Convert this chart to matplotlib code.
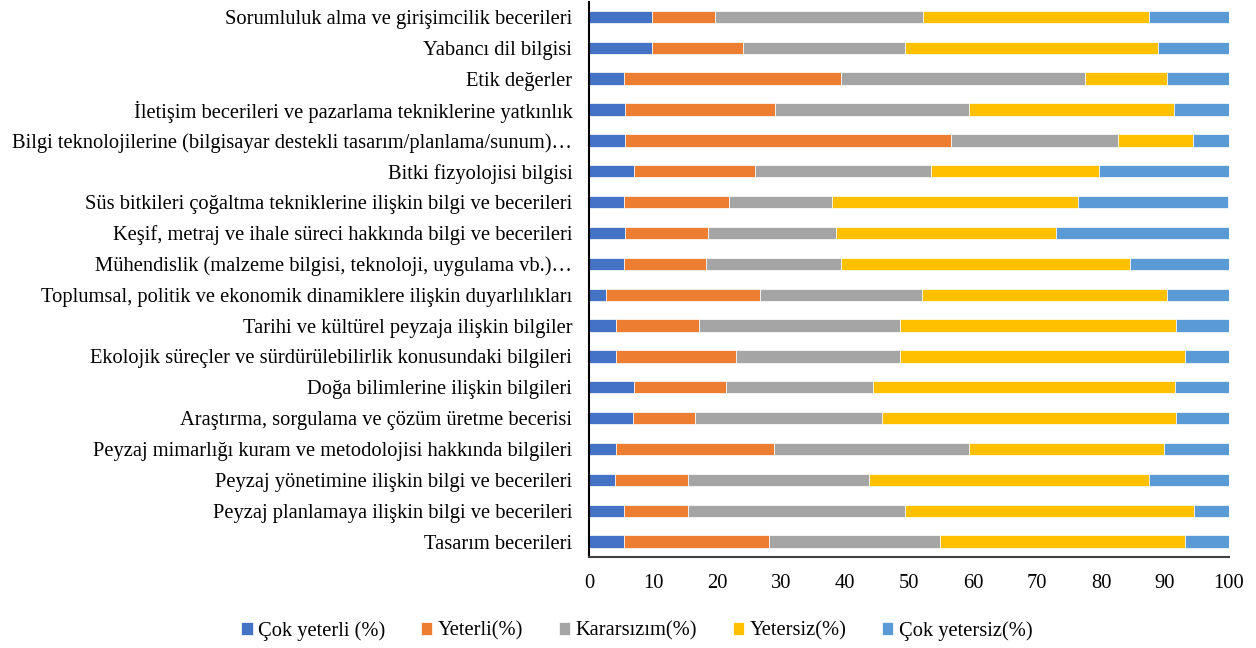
import matplotlib
matplotlib.use("Agg")
import matplotlib.pyplot as plt
import numpy as np

plt.rcParams['font.family'] = ['Liberation Serif', 'DejaVu Serif']

categories = [
    "Sorumluluk alma ve girişimcilik becerileri",
    "Yabancı dil bilgisi",
    "Etik değerler",
    "İletişim becerileri ve pazarlama tekniklerine yatkınlık",
    "Bilgi teknolojilerine (bilgisayar destekli tasarım/planlama/sunum)…",
    "Bitki fizyolojisi bilgisi",
    "Süs bitkileri çoğaltma tekniklerine ilişkin bilgi ve becerileri",
    "Keşif, metraj ve ihale süreci hakkında bilgi ve becerileri",
    "Mühendislik (malzeme bilgisi, teknoloji, uygulama vb.)…",
    "Toplumsal, politik ve ekonomik dinamiklere ilişkin duyarlılıkları",
    "Tarihi ve kültürel peyzaja ilişkin bilgiler",
    "Ekolojik süreçler ve sürdürülebilirlik konusundaki bilgileri",
    "Doğa bilimlerine ilişkin bilgileri",
    "Araştırma, sorgulama ve çözüm üretme becerisi",
    "Peyzaj mimarlığı kuram ve metodolojisi hakkında bilgileri",
    "Peyzaj yönetimine ilişkin bilgi ve becerileri",
    "Peyzaj planlamaya ilişkin bilgi ve becerileri",
    "Tasarım becerileri",
]

cok_yeterli = [9.9, 9.9, 5.5, 5.7, 5.7, 7.1, 5.5, 5.7, 5.5, 2.7, 4.2, 4.2, 7.0, 6.8, 4.2, 4.1, 5.5, 5.5]
yeterli = [9.8, 14.1, 33.9, 23.3, 50.9, 18.9, 16.3, 12.9, 12.8, 24.0, 13.0, 18.7, 14.4, 9.8, 24.7, 11.4, 10.0, 22.6]
kararsizim = [32.5, 25.4, 38.1, 30.4, 26.1, 27.5, 16.2, 20.0, 21.1, 25.4, 31.4, 25.7, 22.9, 29.2, 30.5, 28.3, 33.9, 26.8]
yetersiz = [35.3, 39.5, 12.8, 32.0, 11.7, 26.2, 38.4, 34.4, 45.2, 38.2, 43.1, 44.5, 47.2, 45.9, 30.4, 43.7, 45.2, 38.2]
cok_yetersiz = [12.5, 11.1, 9.7, 8.6, 5.6, 20.3, 23.4, 27.0, 15.4, 9.7, 8.3, 6.9, 8.5, 8.3, 10.2, 12.5, 5.4, 6.9]

series = [
    ("Çok yeterli (%)", cok_yeterli, "#4472C4"),
    ("Yeterli(%)", yeterli, "#ED7D31"),
    ("Kararsızım(%)", kararsizim, "#A5A5A5"),
    ("Yetersiz(%)", yetersiz, "#FFC000"),
    ("Çok yetersiz(%)", cok_yetersiz, "#5B9BD5"),
]
xticks = [0, 10, 20, 30, 40, 50, 60, 70, 80, 90, 100]

FS = 14.8

fig = plt.figure(figsize=(12.56, 6.48), dpi=100)
ax = fig.add_axes([589/1256, 1 - 557/648, (1229 - 589)/1256, (557 - 1.5)/648])

n = len(categories)
y = np.arange(n)[::-1]
left = np.zeros(n)
for label, vals, color in series:
    vals = np.array(vals)
    ax.barh(y, vals, left=left, height=0.4, color=color, label=label,
            edgecolor='white', linewidth=0.5)
    left += vals

ax.set_xlim(0, 100)
ax.set_ylim(-0.5, n - 0.5)
ax.set_yticks(y)
ax.set_yticklabels(categories, fontsize=FS)
ax.set_xticks(xticks)
ax.set_xticklabels([str(t) for t in xticks], fontsize=FS)
ax.tick_params(axis='both', length=0)
ax.tick_params(axis='y', pad=12)
ax.tick_params(axis='x', pad=12)

for s in ['top', 'right']:
    ax.spines[s].set_visible(False)
ax.spines['left'].set_color('black')
ax.spines['left'].set_linewidth(1.5)
ax.spines['bottom'].set_color('#404040')
ax.spines['bottom'].set_linewidth(1.5)

handles, labels = ax.get_legend_handles_labels()
fig.legend(handles, labels, loc='center', bbox_to_anchor=(0.507, 1 - 631/648),
           ncol=5, frameon=False, fontsize=FS, handlelength=0.55, handleheight=0.55,
           handletextpad=0.25, columnspacing=1.75)

fig.savefig("out.png", dpi=100)
